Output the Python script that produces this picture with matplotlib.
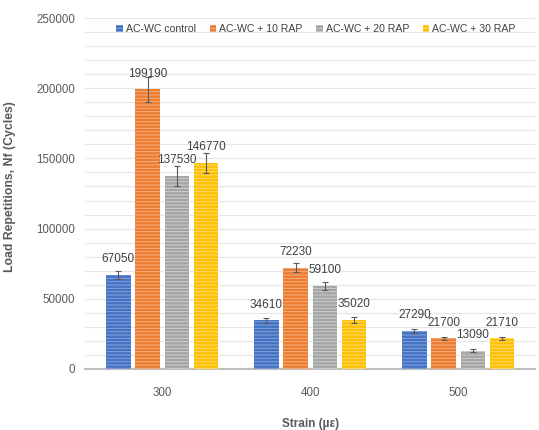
import matplotlib
matplotlib.use("Agg")
import matplotlib.pyplot as plt
import numpy as np

categories = ["300", "400", "500"]
series = ["AC-WC control", "AC-WC + 10 RAP", "AC-WC + 20 RAP", "AC-WC + 30 RAP"]
control = [67050, 34610, 27290]
rap10 = [199190, 72230, 21700]
rap20 = [137530, 59100, 13090]
rap30 = [146770, 35020, 21710]
err_control = [3000, 2000, 1500]
err_rap10 = [9000, 3000, 1200]
err_rap20 = [7000, 3000, 1000]
err_rap30 = [7000, 2000, 1200]

colors = ["#4472C4", "#ED7D31", "#A5A5A5", "#FFC000"]
hatchcols = ["#8FA9DD", "#F5B48C", "#D4D4D4", "#FFDE80"]

plt.rcParams['font.family'] = ['Liberation Sans', 'DejaVu Sans']
plt.rcParams['hatch.linewidth'] = 0.6

fig = plt.figure(figsize=(5.39, 4.30), dpi=100)
ax = fig.add_axes([0.158, 0.142, 0.835, 0.816])

vals = [control, rap10, rap20, rap30]
errs = [err_control, err_rap10, err_rap20, err_rap30]
x = np.arange(len(categories))
w = 0.165
step = 0.197
for i, (v, e) in enumerate(zip(vals, errs)):
    pos = x + (i - 1.5) * step
    ax.bar(pos, v, width=w, color=colors[i], edgecolor=hatchcols[i],
           linewidth=0, hatch='-----', label=series[i], zorder=3)
    ax.errorbar(pos, v, yerr=e, fmt='none', ecolor='#595959', elinewidth=0.8,
                capsize=2.5, capthick=0.8, zorder=4)
    for p, val in zip(pos, v):
        ax.annotate(f"{val}", (p, val), xytext=(0, 7), textcoords='offset points',
                    ha='center', va='bottom', fontsize=8.5, color='#404040', zorder=5)

ax.set_ylim(0, 250000)
ax.set_xlim(-0.52, 2.52)
ax.set_yticks(np.arange(0, 250001, 50000))
ax.set_yticks(np.arange(0, 250001, 10000), minor=True)
ax.grid(axis='y', which='both', color='#E6E6E6', linewidth=0.8, zorder=0)
ax.set_xticks(x)
ax.set_xticklabels(categories)
ax.tick_params(axis='both', which='both', length=0, labelsize=8.3, colors='#595959')
ax.tick_params(axis='x', pad=13)
ax.tick_params(axis='y', pad=7)
for s in ['top', 'right', 'left']:
    ax.spines[s].set_visible(False)
ax.spines['bottom'].set_color('#BFBFBF')
ax.spines['bottom'].set_linewidth(1.5)

ax.set_ylabel("Load Repetitions, Nf (Cycles)", fontsize=8.8, fontweight='bold', color='#595959')
ax.yaxis.set_label_coords(-0.153, 0.52)
ax.set_xlabel("Strain (µε)", fontsize=8.5, fontweight='bold', color='#595959', labelpad=14)

leg = ax.legend(loc='upper center', bbox_to_anchor=(0.513, 0.995), ncol=4, frameon=False,
                fontsize=7.6, handlelength=0.6, handleheight=0.6, handletextpad=0.3,
                columnspacing=1.3, borderaxespad=0.0)
for t in leg.get_texts():
    t.set_color('#404040')

fig.savefig("out.png", dpi=100)
